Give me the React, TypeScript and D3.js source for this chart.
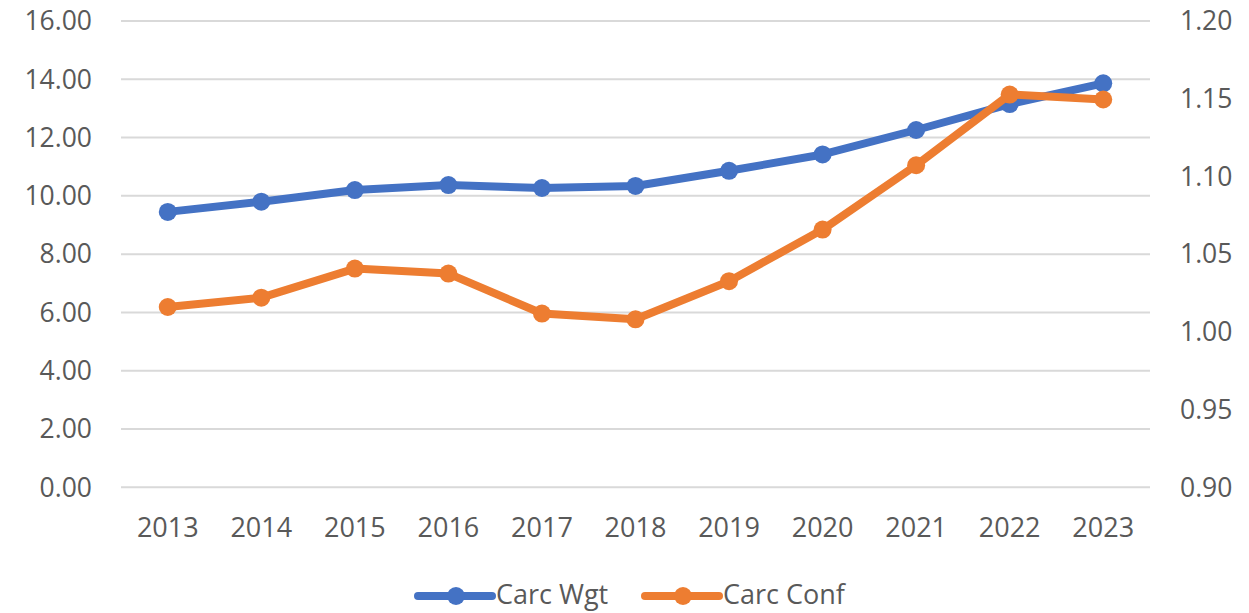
import React, { useEffect, useRef } from 'react'
import * as d3 from 'd3'

const years = ['2013', '2014', '2015', '2016', '2017', '2018', '2019', '2020', '2021', '2022', '2023']
const carcWgt = [9.45, 9.8, 10.2, 10.37, 10.27, 10.34, 10.86, 11.42, 12.26, 13.15, 13.86]
const carcConf = [1.016, 1.022, 1.0407, 1.0375, 1.0118, 1.0081, 1.0326, 1.0658, 1.1072, 1.1527, 1.1495]
const leftTicks = [0, 2, 4, 6, 8, 10, 12, 14, 16]
const rightTicks = [0.9, 0.95, 1.0, 1.05, 1.1, 1.15, 1.2]

const W = 1249
const H = 613
const BLUE = '#4472C4'
const ORANGE = '#ED7D31'
const TEXT = '#595959'
const FONT = '"Open Sans", "Noto Sans", sans-serif'

export default function App() {
  const svgRef = useRef<SVGSVGElement>(null)

  useEffect(() => {
    const svg = d3.select(svgRef.current)
    svg.selectAll('*').remove()

    const left = 121, right = 1150, top = 21, bottom = 487.3

    const x = d3.scaleBand().domain(years).range([left, right]).padding(0)
    const cx = (d: string) => (x(d) as number) + x.bandwidth() / 2
    const yL = d3.scaleLinear().domain([0, 16]).range([bottom, top])
    const yR = d3.scaleLinear().domain([0.9, 1.2]).range([bottom, top])

    // gridlines
    svg.append('g')
      .selectAll('line')
      .data(leftTicks)
      .enter()
      .append('line')
      .attr('x1', left).attr('x2', right)
      .attr('y1', d => yL(d)).attr('y2', d => yL(d))
      .attr('stroke', '#d9d9d9')
      .attr('stroke-width', 2)

    // left axis labels
    svg.append('g')
      .selectAll('text')
      .data(leftTicks)
      .enter()
      .append('text')
      .attr('x', 92)
      .attr('y', d => yL(d))
      .attr('dy', '0.35em')
      .attr('text-anchor', 'end')
      .attr('fill', TEXT)
      .attr('font-family', FONT)
      .attr('font-size', 26.5)
      .text(d => d.toFixed(2))

    // right axis labels
    svg.append('g')
      .selectAll('text')
      .data(rightTicks)
      .enter()
      .append('text')
      .attr('x', 1180)
      .attr('y', d => yR(d))
      .attr('dy', '0.35em')
      .attr('text-anchor', 'start')
      .attr('fill', TEXT)
      .attr('font-family', FONT)
      .attr('font-size', 26.5)
      .text(d => d.toFixed(2))

    // x labels
    svg.append('g')
      .selectAll('text')
      .data(years)
      .enter()
      .append('text')
      .attr('x', d => cx(d))
      .attr('y', 528)
      .attr('dy', '0.35em')
      .attr('text-anchor', 'middle')
      .attr('fill', TEXT)
      .attr('font-family', FONT)
      .attr('font-size', 27)
      .text(d => d)

    const series = [
      { name: 'Carc Wgt', values: carcWgt, y: yL, color: BLUE },
      { name: 'Carc Conf', values: carcConf, y: yR, color: ORANGE },
    ]

    series.forEach(s => {
      const line = d3.line<number>()
        .x((_, i) => cx(years[i]))
        .y(v => s.y(v))
      svg.append('path')
        .datum(s.values)
        .attr('d', line)
        .attr('fill', 'none')
        .attr('stroke', s.color)
        .attr('stroke-width', 8)
        .attr('stroke-linejoin', 'round')
        .attr('stroke-linecap', 'round')
      svg.append('g')
        .selectAll('circle')
        .data(s.values)
        .enter()
        .append('circle')
        .attr('cx', (_, i) => cx(years[i]))
        .attr('cy', v => s.y(v))
        .attr('r', 9)
        .attr('fill', s.color)
    })

    // legend
    const legendX = [418, 645]
    series.forEach((s, i) => {
      const g = svg.append('g').attr('transform', `translate(${legendX[i]},596)`)
      g.append('line')
        .attr('x1', 0).attr('x2', 74)
        .attr('y1', 0).attr('y2', 0)
        .attr('stroke', s.color)
        .attr('stroke-width', 8)
        .attr('stroke-linecap', 'round')
      g.append('circle').attr('cx', 38).attr('cy', 0).attr('r', 9).attr('fill', s.color)
      g.append('text')
        .attr('x', 78)
        .attr('y', 0)
        .attr('dy', '0.3em')
        .attr('fill', TEXT)
        .attr('font-family', FONT)
        .attr('font-size', 27)
        .text(s.name)
    })
  }, [])

  return (
    <svg
      ref={svgRef}
      width={W}
      height={H}
      style={{ position: 'absolute', left: 0, top: 0, background: '#fff' }}
    />
  )
}
